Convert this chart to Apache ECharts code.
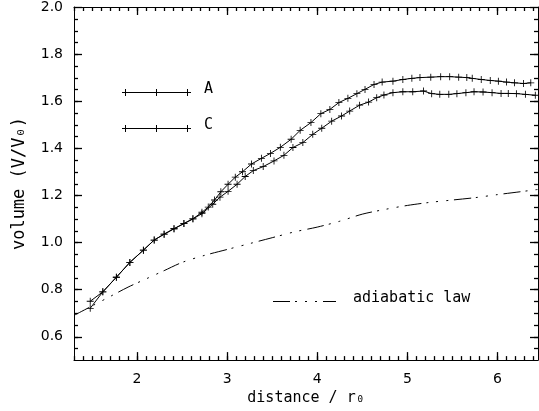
<!DOCTYPE html>
<html><head><meta charset="utf-8">
<script src="https://cdn.jsdelivr.net/npm/echarts@6/dist/echarts.min.js"></script>
<style>html,body{margin:0;padding:0;background:#fff}#c{width:539px;height:411px}</style>
</head><body><div id="c"></div>
<script>
// ---- data ----
const xTicks = [2, 3, 4, 5, 6];
const yTicks = [0.6, 0.8, 1.0, 1.2, 1.4, 1.6, 1.8, 2.0];

const xA = [1.48, 1.62, 1.77, 1.92, 2.07, 2.19, 2.30, 2.41, 2.52, 2.62, 2.72, 2.79, 2.86, 2.93, 3.01, 3.09, 3.17, 3.27,
            3.38, 3.48, 3.59, 3.71, 3.81, 3.93, 4.04, 4.14, 4.24, 4.34, 4.44, 4.53, 4.63, 4.72, 4.84, 4.95, 5.05, 5.14,
            5.26, 5.37, 5.47, 5.57, 5.66, 5.72, 5.82, 5.92, 6.01, 6.10, 6.19, 6.29, 6.37];
const yA = [0.750, 0.790, 0.852, 0.915, 0.967, 1.010, 1.035, 1.058, 1.080, 1.100, 1.128, 1.150, 1.180, 1.215, 1.247, 1.277, 1.300, 1.333,
            1.357, 1.378, 1.404, 1.438, 1.476, 1.509, 1.547, 1.565, 1.594, 1.612, 1.632, 1.650, 1.671, 1.681, 1.685, 1.692, 1.697, 1.700,
            1.702, 1.704, 1.704, 1.702, 1.700, 1.697, 1.692, 1.688, 1.685, 1.681, 1.678, 1.675, 1.678];

const xC = [1.48, 1.62, 1.77, 1.92, 2.07, 2.19, 2.30, 2.41, 2.52, 2.62, 2.72, 2.84, 2.92, 3.01, 3.11, 3.20, 3.29,
            3.40, 3.52, 3.63, 3.73, 3.84, 3.95, 4.05, 4.16, 4.27, 4.36, 4.47, 4.57, 4.66, 4.74, 4.84, 4.95, 5.06,
            5.18, 5.27, 5.36, 5.46, 5.55, 5.65, 5.74, 5.84, 5.94, 6.04, 6.12, 6.21, 6.31, 6.42];
const yC = [0.720, 0.790, 0.852, 0.915, 0.967, 1.010, 1.035, 1.058, 1.080, 1.100, 1.122, 1.162, 1.192, 1.217, 1.247, 1.280, 1.305,
            1.322, 1.346, 1.370, 1.403, 1.424, 1.459, 1.485, 1.515, 1.537, 1.558, 1.583, 1.596, 1.615, 1.626, 1.636, 1.640, 1.640,
            1.643, 1.632, 1.629, 1.629, 1.632, 1.636, 1.640, 1.639, 1.636, 1.633, 1.633, 1.632, 1.629, 1.625];

const xAd = [1.30, 1.50, 1.70, 1.90, 2.10, 2.30, 2.50, 2.75, 3.00, 3.25, 3.50, 3.75, 4.00, 4.25, 4.50, 4.75, 5.00, 5.25, 5.50, 5.75, 6.00, 6.25, 6.45];
const yAd = [0.690, 0.730, 0.770, 0.810, 0.845, 0.880, 0.915, 0.945, 0.970, 0.995, 1.020, 1.045, 1.065, 1.090, 1.120, 1.140, 1.157, 1.170, 1.180, 1.190, 1.203, 1.215, 1.225];

// ---- build ----
const XMIN = 1.3, XMAX = 6.45, YMIN = 0.5, YMAX = 2.0;
const zip = (a, b) => a.map((v, i) => [v, b[i]]);
const xMinor = []; for (let i = 13; i <= 64; i++) xMinor.push(+(i / 10).toFixed(1));
const yMinor = []; for (let i = 11; i <= 39; i++) yMinor.push(+(i / 20).toFixed(2));

const BLACK = '#000';
const TICKFONT = 'DejaVu Sans';
const TXTFONT = 'DejaVu Sans Mono';
const PLUS = 'path://M-0.12,-1L0.12,-1L0.12,-0.12L1,-0.12L1,0.12L0.12,0.12L0.12,1L-0.12,1L-0.12,0.12L-1,0.12L-1,-0.12L-0.12,-0.12Z';

function axisDef(kind, pos, opts) {
  const a = {
    type: 'value', min: kind === 'x' ? XMIN : YMIN, max: kind === 'x' ? XMAX : YMAX, position: pos,
    axisLine: { show: true, onZero: false, lineStyle: { color: BLACK, width: 1 } },
    axisTick: { show: false },
    axisLabel: { show: false },
    splitLine: { show: false }
  };
  if (opts.labels) {
    a.axisLabel = { show: true, customValues: opts.labels, margin: kind === 'x' ? 12 : 11, color: BLACK,
      fontFamily: TICKFONT, fontSize: 14, formatter: kind === 'x' ? (v => String(v)) : (v => v.toFixed(1)) };
  }
  return a;
}

const xAxes = [
  Object.assign(axisDef('x', 'bottom', { labels: xTicks }), {
    name: 'distance / r₀', nameLocation: 'middle', nameGap: 26,
    nameTextStyle: { color: BLACK, fontFamily: TXTFONT, fontSize: 15 }
  }),
  axisDef('x', 'top', {})
];
const yAxes = [
  Object.assign(axisDef('y', 'left', { labels: yTicks }), {
    name: 'volume (V/V₀)', nameLocation: 'middle', nameGap: 46, nameRotate: 90,
    nameTextStyle: { color: BLACK, fontFamily: TXTFONT, fontSize: 17 }
  }),
  axisDef('y', 'right', {})
];

const ADDASH = [17, 5, 2, 8, 2, 8, 2, 6];

function sampleLine(y, x1, x2, marks, dash) {
  const els = [{ type: 'line', shape: { x1: x1, y1: y, x2: x2, y2: y }, style: { stroke: BLACK, lineWidth: 1, lineDash: dash || null } }];
  (marks || []).forEach(m => {
    els.push({ type: 'line', shape: { x1: m - 3.5, y1: y, x2: m + 3.5, y2: y }, style: { stroke: BLACK, lineWidth: 1 } });
    els.push({ type: 'line', shape: { x1: m, y1: y - 3.5, x2: m, y2: y + 3.5 }, style: { stroke: BLACK, lineWidth: 1 } });
  });
  return els;
}
function label(x, y, t) {
  return { type: 'text', x: x, y: y, style: { text: t, fill: BLACK, font: '15px "' + TXTFONT + '"', verticalAlign: 'middle', align: 'left' } };
}

const legendGraphics = []
  .concat(sampleLine(92.5, 123, 190, [125.5, 156.5, 187.5]))
  .concat([label(204, 89, 'A')])
  .concat(sampleLine(128.5, 123, 190, [125.5, 156.5, 187.5]))
  .concat([label(204, 125, 'C')])
  .concat(sampleLine(301.5, 273, 336, [], ADDASH))
  .concat([label(353, 298, 'adiabatic law')]);

const chart = echarts.init(document.getElementById('c'), null, { renderer: 'canvas' });
chart.setOption({
  animation: false,
  backgroundColor: '#fff',
  grid: { left: 74, right: 1, top: 7, bottom: 50, containLabel: false },
  xAxis: xAxes,
  yAxis: yAxes,
  series: [
    { name: 'A', type: 'line', data: zip(xA, yA), symbol: PLUS, symbolSize: 7,
      itemStyle: { color: BLACK }, lineStyle: { color: BLACK, width: 1 }, z: 3 },
    { name: 'C', type: 'line', data: zip(xC, yC), symbol: PLUS, symbolSize: 7,
      itemStyle: { color: BLACK }, lineStyle: { color: BLACK, width: 1 }, z: 3 },
    { name: 'adiabatic law', type: 'line', data: zip(xAd, yAd), showSymbol: false, symbol: 'none', smooth: 0.3,
      lineStyle: { color: BLACK, width: 1, type: ADDASH }, z: 2 }
  ]
});

// box tick marks (inward on all four sides), positioned through the chart's own axis scales
const tickEls = [];
const toPx = (x, y) => chart.convertToPixel({ xAxisIndex: 0, yAxisIndex: 0 }, [x, y]);
const st = { stroke: BLACK, lineWidth: 1.3 };
function xTick(v, len) {
  const b = toPx(v, YMIN), t = toPx(v, YMAX);
  const x = Math.round(b[0]) + 0.5;
  tickEls.push({ type: 'line', shape: { x1: x, y1: b[1], x2: x, y2: b[1] - len }, style: st, z: 10 });
  tickEls.push({ type: 'line', shape: { x1: x, y1: t[1], x2: x, y2: t[1] + len }, style: st, z: 10 });
}
function yTick(v, len) {
  const l = toPx(XMIN, v), r = toPx(XMAX, v);
  const y = Math.round(l[1]) + 0.5;
  tickEls.push({ type: 'line', shape: { x1: l[0], y1: y, x2: l[0] + len, y2: y }, style: st, z: 10 });
  tickEls.push({ type: 'line', shape: { x1: r[0], y1: y, x2: r[0] - len, y2: y }, style: st, z: 10 });
}
xMinor.forEach(v => xTick(v, 4));
xTicks.forEach(v => xTick(v, 8));
yMinor.forEach(v => yTick(v, 4));
yTicks.forEach(v => yTick(v, 8));

chart.setOption({ graphic: legendGraphics.concat(tickEls) });
</script>
</body></html>
